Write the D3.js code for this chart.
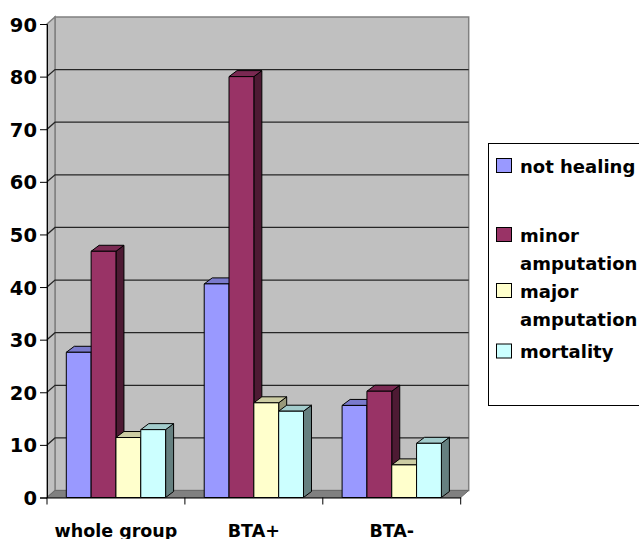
<!DOCTYPE html>
<html>
<head>
<meta charset="utf-8">
<script src="https://cdn.jsdelivr.net/npm/d3@7/dist/d3.min.js"></script>
<style>
  html, body { margin: 0; padding: 0; background: #fff; }
  svg { display: block; font-family: "DejaVu Sans", sans-serif; font-weight: bold; }
</style>
</head>
<body>
<svg id="chart" width="639" height="539"></svg>
<script>
// Outcome percentages per patient group
const categories = ["whole group", "BTA+", "BTA-"];
const seriesNames = ["not healing", "minor amputation", "major amputation", "mortality"];
const notHealing = [27.6, 40.6, 17.5];
const minorAmputation = [46.8, 80, 20.2];
const majorAmputation = [11.4, 18, 6.2];
const mortality = [12.9, 16.4, 10.3];
const yTicks = [0, 10, 20, 30, 40, 50, 60, 70, 80, 90];
const legendLines = [["not healing"], ["minor", "amputation"], ["major", "amputation"], ["mortality"]];

const seriesValues = [notHealing, minorAmputation, majorAmputation, mortality];
// front, top and side shades of each series
const faces = [
  { front: "#9999FF", top: "#7A7ACC", side: "#5C5C99" },
  { front: "#993366", top: "#7A2952", side: "#4D1A33" },
  { front: "#FFFFCC", top: "#CCCCA3", side: "#99997A" },
  { front: "#CCFFFF", top: "#A3CCCC", side: "#668080" }
];

const FONT = "'DejaVu Sans', sans-serif";
const svg = d3.select("#chart");
const plotLeft = 47, plotRight = 460.7, plotTop = 24, plotBottom = 497.5;
const wallDx = 8, wallDy = 7;      // depth of the walls
const barDx = 8, barDy = 6;        // depth of each column

const y = d3.scaleLinear().domain([0, 90]).range([plotBottom, plotTop]);
const x0 = d3.scaleBand().domain(categories).range([plotLeft, plotRight]).padding(0);
const x1 = d3.scaleBand().domain(seriesNames)
  .range([x0.bandwidth() * 0.14, x0.bandwidth() * 0.86]).padding(0);

const g = svg.append("g");

// back wall
g.append("rect")
  .attr("x", plotLeft + wallDx).attr("y", plotTop - wallDy)
  .attr("width", plotRight - plotLeft).attr("height", plotBottom - plotTop)
  .attr("fill", "#C0C0C0").attr("stroke", "#808080").attr("stroke-width", 1.5);

// side wall
g.append("path")
  .attr("d", `M${plotLeft},${plotTop} L${plotLeft + wallDx},${plotTop - wallDy} L${plotLeft + wallDx},${plotBottom - wallDy} L${plotLeft},${plotBottom} Z`)
  .attr("fill", "#C0C0C0").attr("stroke", "#808080").attr("stroke-width", 1.5);

// floor
g.append("path")
  .attr("d", `M${plotLeft},${plotBottom} L${plotLeft + wallDx},${plotBottom - wallDy} L${plotRight + wallDx},${plotBottom - wallDy} L${plotRight},${plotBottom} Z`)
  .attr("fill", "#808080").attr("stroke", "#6a6a6a").attr("stroke-width", 1);

// gridlines across the side and back walls
yTicks.filter(t => t > 0 && t < 90).forEach(t => {
  const yy = y(t);
  g.append("path")
    .attr("d", `M${plotLeft},${yy} L${plotLeft + wallDx},${yy - wallDy} L${plotRight + wallDx},${yy - wallDy}`)
    .attr("fill", "none").attr("stroke", "#262626").attr("stroke-width", 1.3);
});

// value axis
const yAxis = d3.axisLeft(y).tickValues(yTicks).tickSize(7).tickPadding(3);
const ya = svg.append("g").attr("transform", `translate(${plotLeft},0)`).call(yAxis);
ya.select(".domain").attr("stroke", "#000").attr("stroke-width", 1);
ya.selectAll(".tick line").attr("stroke", "#000");
ya.selectAll(".tick text").attr("font-size", 19.5).attr("font-weight", "bold")
  .attr("font-family", FONT).attr("fill", "#000").attr("dy", "0.36em");

// category axis
const xAxis = d3.axisBottom(x0).tickValues([]).tickSizeOuter(0);
const xa = svg.append("g").attr("transform", `translate(0,${plotBottom})`).call(xAxis);
xa.select(".domain").attr("stroke", "#000");
const tickXs = [plotLeft].concat(categories.map(c => x0(c) + x0.bandwidth()));
xa.selectAll("line.sep").data(tickXs).enter().append("line").attr("class", "sep")
  .attr("x1", d => d).attr("x2", d => d).attr("y1", 0).attr("y2", 7)
  .attr("stroke", "#000");
xa.selectAll("text.cat").data(categories).enter().append("text").attr("class", "cat")
  .attr("x", d => x0(d) + x0.bandwidth() / 2).attr("y", 39)
  .attr("text-anchor", "middle").attr("font-size", 17.5).attr("font-weight", "bold")
  .attr("font-family", FONT).attr("fill", "#000").text(d => d);

// 3D columns, drawn left to right so each front face covers the previous side
const bars = svg.append("g").attr("stroke", "#000").attr("stroke-width", 1).attr("stroke-linejoin", "round");
categories.forEach((cat, ci) => {
  seriesNames.forEach((s, si) => {
    const v = seriesValues[si][ci];
    const xa0 = x0(cat) + x1(s), xa1 = xa0 + x1.bandwidth();
    const yt = y(v), yb = y(0);
    const f = faces[si];
    const col = bars.append("g");
    col.append("path")
      .attr("d", `M${xa1},${yt} L${xa1 + barDx},${yt - barDy} L${xa1 + barDx},${yb - barDy} L${xa1},${yb} Z`)
      .attr("fill", f.side);
    col.append("path")
      .attr("d", `M${xa0},${yt} L${xa0 + barDx},${yt - barDy} L${xa1 + barDx},${yt - barDy} L${xa1},${yt} Z`)
      .attr("fill", f.top);
    col.append("rect")
      .attr("x", xa0).attr("y", yt).attr("width", xa1 - xa0).attr("height", yb - yt)
      .attr("fill", f.front);
  });
});

// legend
const legend = svg.append("g");
legend.append("rect").attr("x", 488.5).attr("y", 143.5).attr("width", 170).attr("height", 262)
  .attr("fill", "#fff").attr("stroke", "#000").attr("stroke-width", 1);
const itemY = [166, 235, 291, 351.5];
legendLines.forEach((lines, i) => {
  legend.append("rect").attr("x", 496.5).attr("y", itemY[i] - 7.5).attr("width", 15).attr("height", 14)
    .attr("fill", faces[i].front).attr("stroke", "#000").attr("stroke-width", 1);
  lines.forEach((t, li) => {
    legend.append("text").attr("x", 520).attr("y", itemY[i] + 6.5 + li * 28)
      .attr("font-size", 18).attr("font-weight", "bold").attr("font-family", FONT)
      .attr("fill", "#000").text(t);
  });
});
</script>
</body>
</html>
